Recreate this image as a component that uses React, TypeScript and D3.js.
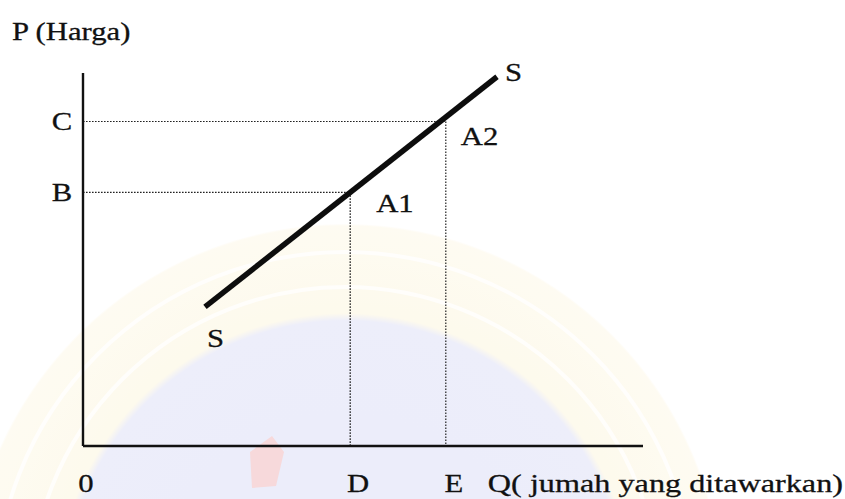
import React from "react";
import * as d3 from "d3";

// Supply schedule S–S (quantity, price) in model units
const supplyQ = [3.05, 10.35];
const supplyP = [3.73, 9.9];

// Two points on the supply curve and their axis markers
const pointNames = ["A1", "A2"];
const pointQ = [6.68, 9.07];
const pointP = [6.8, 8.7];
const priceLabels = ["B", "C"];
const qtyLabels = ["D", "E"];

const yTitle = "P (Harga)";
const xTitle = "Q( jumah yang ditawarkan)";
const originLabel = "0";
const curveLabel = "S";

const W = 845;
const H = 499;
const FONT = "'Liberation Serif', 'Times New Roman', serif";
const FS = 26;
const SX = 1.18;

function Label({ x, y, text, anchor = "start", sx = SX }: { x: number; y: number; text: string; anchor?: string; sx?: number }) {
  return (
    <text
      transform={`translate(${x},${y}) scale(${sx},1)`}
      fontFamily={FONT}
      fontSize={FS}
      fill="#111"
      stroke="#111"
      strokeWidth={0.3}
      textAnchor={anchor as any}
    >
      {text}
    </text>
  );
}

export default function App() {
  const x = d3.scaleLinear().domain([0, 14]).range([83, 643]);
  const y = d3.scaleLinear().domain([0, 10]).range([446, 73]);

  const supply = supplyQ.map((q, i) => [x(q), y(supplyP[i])] as [number, number]);
  const line = d3.line();

  const dot = { stroke: "#222", strokeWidth: 1.2, strokeDasharray: "1.6 1.4", fill: "none" };

  return (
    <svg width={W} height={H} style={{ position: "absolute", left: 0, top: 0, background: "#fff" }}>
      <defs>
        <radialGradient id="seal" cx="345" cy="602" r="380" gradientUnits="userSpaceOnUse">
          <stop offset="0" stopColor="#d9dbf7" />
          <stop offset="0.74" stopColor="#dcdef7" />
          <stop offset="0.76" stopColor="#fdf6dc" />
          <stop offset="0.99" stopColor="#fef9e6" />
          <stop offset="1" stopColor="#ffffff" stopOpacity="0" />
        </radialGradient>
      </defs>
      <rect width={W} height={H} fill="#fff" />
      {/* faint seal in the background */}
      <g opacity={0.5}>
        <circle cx={345} cy={602} r={378} fill="url(#seal)" />
        <circle cx={345} cy={602} r={350} fill="none" stroke="#fff" strokeWidth={4} opacity={0.8} />
        <circle cx={345} cy={602} r={315} fill="none" stroke="#fff" strokeWidth={4} opacity={0.8} />
        <path d="M250,452 L272,436 L284,452 L276,486 L252,488 Z" fill="#f2b0b0" opacity={0.9} />
      </g>

      {/* guide lines from points to axes */}
      {pointNames.map((n, i) => (
        <g key={n}>
          <line x1={x(0)} x2={x(pointQ[i])} y1={y(pointP[i])} y2={y(pointP[i])} style={dot} />
          <line x1={x(pointQ[i])} x2={x(pointQ[i])} y1={y(pointP[i])} y2={y(0)} style={dot} />
        </g>
      ))}

      {/* axes */}
      <line x1={x(0)} x2={x(0)} y1={y(10)} y2={y(0)} stroke="#111" strokeWidth={2.4} />
      <line x1={x(0)} x2={x(14)} y1={y(0)} y2={y(0)} stroke="#111" strokeWidth={2.4} />

      {/* supply curve */}
      <path d={line(supply) || ""} stroke="#0d0d0d" strokeWidth={5.5} fill="none" />

      {/* text */}
      <Label x={12} y={40} text={yTitle} />
      {priceLabels.map((t, i) => (
        <Label key={t} x={62} y={y(pointP[i]) + 9} text={t} anchor="middle" />
      ))}
      {qtyLabels.map((t, i) => (
        <Label key={t} x={x(pointQ[i]) + 8} y={492} text={t} anchor="middle" />
      ))}
      <Label x={86} y={492} text={originLabel} anchor="middle" />
      <Label x={843} y={492} text={xTitle} anchor="end" sx={1.24} />
      <Label x={x(pointQ[0]) + 26} y={y(pointP[0]) + 20} text={pointNames[0]} />
      <Label x={x(pointQ[1]) + 15} y={y(pointP[1]) + 24} text={pointNames[1]} />
      <Label x={supply[0][0] + 2} y={supply[0][1] + 40} text={curveLabel} />
      <Label x={supply[1][0] + 8} y={supply[1][1] + 4} text={curveLabel} />
    </svg>
  );
}
